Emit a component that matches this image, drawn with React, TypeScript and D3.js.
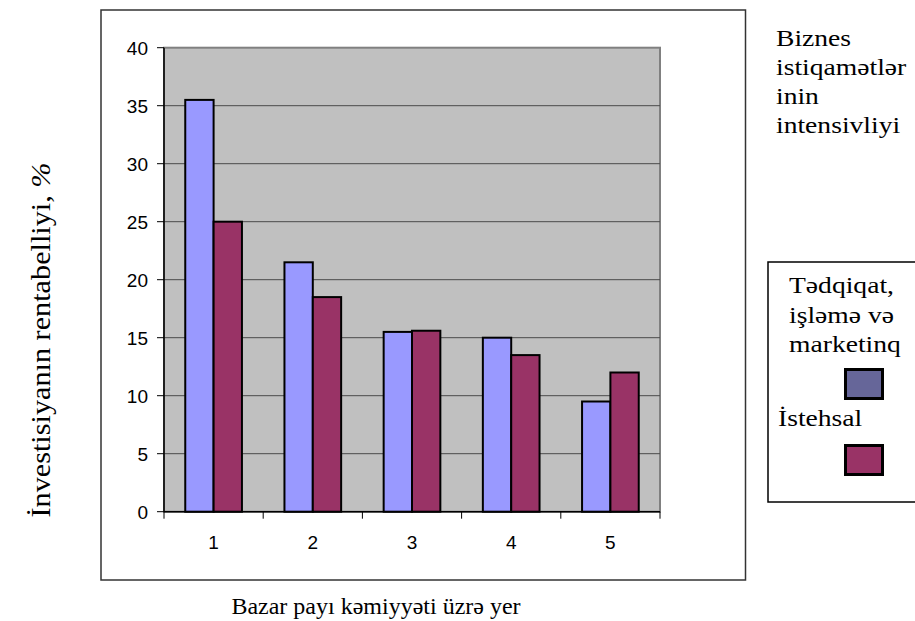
import React from "react";
import * as d3 from "d3";

const categories = ["1", "2", "3", "4", "5"];
const seriesNames = ["Tədqiqat, işləmə və marketinq", "İstehsal"];
const researchValues = [35.5, 21.5, 15.5, 15, 9.5];
const productionValues = [25, 18.5, 15.6, 13.5, 12];
const yTicks = [0, 5, 10, 15, 20, 25, 30, 35, 40];
const legendTitleLines = ["Biznes", "istiqamətlər", "inin", "intensivliyi"];
const legendLabel1 = ["Tədqiqat,", "işləmə və", "marketinq"];
const legendLabel2 = ["İstehsal"];

const W = 915;
const H = 621;
const plot = { left: 164, right: 660, top: 47.7, bottom: 511.7 };
const BAR_COLORS = ["#9999FF", "#993366"];
const SWATCH_COLORS = ["#666699", "#993366"];
const serif = "'Liberation Serif', 'Times New Roman', serif";
const sans = "'Liberation Sans', Arial, sans-serif";
const SX = 1.2;

function WideText({ x, y, children }: { x: number; y: number; children: React.ReactNode }) {
  return (
    <text transform={`translate(${x},${y}) scale(${SX},1)`} fontFamily={serif} fontSize={23} fill="#000">
      {children}
    </text>
  );
}

export default function App() {
  const x0 = d3.scaleBand<string>().domain(categories).range([plot.left, plot.right]).paddingInner(0).paddingOuter(0);
  const y = d3.scaleLinear().domain([0, 40]).range([plot.bottom, plot.top]);
  const bw = x0.bandwidth() / 3.5;
  const series = [researchValues, productionValues];

  return (
    <svg width={W} height={H} style={{ position: "absolute", left: 0, top: 0, background: "#fff" }}>
      {/* outer chart frame */}
      <rect x={101} y={10} width={644.5} height={570} fill="#fff" stroke="#333" strokeWidth={1.5} />
      {/* plot area */}
      <rect x={plot.left} y={plot.top} width={plot.right - plot.left} height={plot.bottom - plot.top} fill="#C0C0C0" stroke="#808080" strokeWidth={2} />
      {yTicks.filter((t) => t > 0 && t < 40).map((t) => (
        <line key={t} x1={plot.left} x2={plot.right} y1={y(t)} y2={y(t)} stroke="#4a4a4a" strokeWidth={1} />
      ))}
      {/* bars */}
      {categories.map((c, i) => {
        const cx = (x0(c) as number) + x0.bandwidth() / 2;
        return series.map((vals, s) => (
          <rect
            key={c + s}
            x={cx - bw + s * bw}
            y={y(vals[i])}
            width={bw}
            height={y(0) - y(vals[i])}
            fill={BAR_COLORS[s]}
            stroke="#000"
            strokeWidth={2}
          />
        ));
      })}
      {/* axes */}
      <line x1={plot.left} x2={plot.left} y1={plot.top} y2={plot.bottom} stroke="#000" strokeWidth={1.5} />
      <line x1={plot.left} x2={plot.right} y1={plot.bottom} y2={plot.bottom} stroke="#000" strokeWidth={1.5} />
      {yTicks.map((t) => (
        <g key={t}>
          <line x1={plot.left - 7} x2={plot.left} y1={y(t)} y2={y(t)} stroke="#000" strokeWidth={1} />
          <text x={plot.left - 16} y={y(t)} dy="0.36em" textAnchor="end" fontFamily={sans} fontSize={19} fill="#000">
            {t}
          </text>
        </g>
      ))}
      {categories.map((c) => (
        <line key={"t" + c} x1={x0(c) as number} x2={x0(c) as number} y1={plot.bottom} y2={plot.bottom + 7} stroke="#000" strokeWidth={1} />
      ))}
      <line x1={plot.right} x2={plot.right} y1={plot.bottom} y2={plot.bottom + 7} stroke="#000" strokeWidth={1} />
      {categories.map((c) => (
        <text key={"l" + c} x={(x0(c) as number) + x0.bandwidth() / 2} y={549} textAnchor="middle" fontFamily={sans} fontSize={19} fill="#000">
          {c}
        </text>
      ))}
      {/* axis titles */}
      <text x={376} y={614} textAnchor="middle" fontFamily={serif} fontSize={24} fill="#000">
        Bazar payı kəmiyyəti üzrə yer
      </text>
      <text transform={`translate(50,340) rotate(-90) scale(1.12,1)`} textAnchor="middle" fontFamily={serif} fontSize={27} fill="#000">
        İnvestisiyanın rentabelliyi, <tspan fontStyle="italic">%</tspan>
      </text>
      {/* legend title */}
      {legendTitleLines.map((l, i) => (
        <WideText key={l} x={776} y={46 + i * 29}>
          {l}
        </WideText>
      ))}
      {/* legend box */}
      <rect x={768} y={262} width={160} height={240} fill="#fff" stroke="#000" strokeWidth={1.5} />
      {legendLabel1.map((l, i) => (
        <WideText key={l} x={789} y={293 + i * 29.5}>
          {l}
        </WideText>
      ))}
      <rect x={845.5} y={369.5} width={37} height={29} fill={SWATCH_COLORS[0]} stroke="#000" strokeWidth={3} />
      {legendLabel2.map((l) => (
        <WideText key={l} x={778} y={426}>
          {l}
        </WideText>
      ))}
      <rect x={845.5} y={445.5} width={37} height={29} fill={SWATCH_COLORS[1]} stroke="#000" strokeWidth={3} />
      <title>{seriesNames.join(" / ")}</title>
    </svg>
  );
}
